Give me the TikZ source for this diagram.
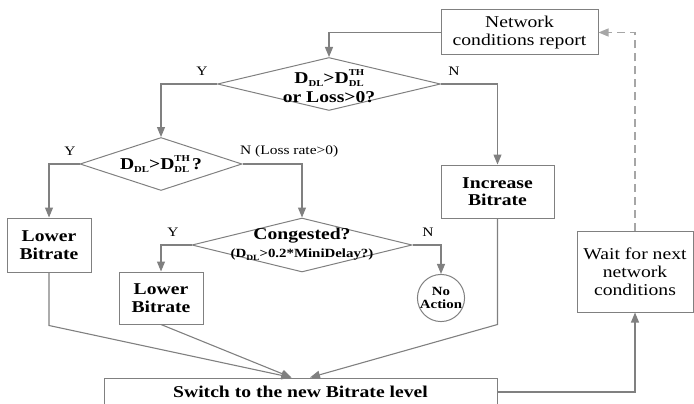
\documentclass[tikz,border=0pt]{standalone}
\usepackage{fontspec}
\setmainfont{Liberation Serif}[FakeStretch=1.19]
\usetikzlibrary{shapes.geometric,arrows.meta}

% delay subscripts: D_DL and D_DL^TH
\newcommand{\dsub}[1][9]{\raisebox{-3pt}{\fontsize{#1}{#1}\selectfont DL}}
\newcommand{\dsubsup}{\rlap{\raisebox{8.5pt}{\fontsize{9}{9}\selectfont TH}}\raisebox{-3pt}{\fontsize{9}{9}\selectfont DL}}

\begin{document}
\begin{tikzpicture}[
        x=1pt, y=-1pt,
        every node/.style={font=\fontsize{16.5}{18}\selectfont, align=center},
        box/.style={draw=gray, line width=1pt, inner sep=0pt},
        boldbox/.style={box, font=\fontsize{16.5}{17.5}\selectfont\bfseries},
        decision/.style={diamond, draw=gray, line width=1pt, inner sep=0pt},
        dtext/.style={font=\fontsize{16.5}{19}\selectfont\bfseries, align=center},
        lbl/.style={font=\fontsize{13}{13}\selectfont, inner sep=0pt},
        arrow/.style={draw=gray, line width=1.1pt, -{Triangle[length=10pt,width=8pt]}}
    ]
        \useasboundingbox (0,0) rectangle (694,404);

        % boxes
        \node[box, minimum width=157pt, minimum height=45pt] (report) at (519.5,32.5) {Network\\conditions report};
        \node[boldbox, minimum width=84pt, minimum height=54pt] (low1) at (49,245) {Lower\\Bitrate};
        \node[boldbox, minimum width=84pt, minimum height=52pt] (low2) at (161,298) {Lower\\Bitrate};
        \node[boldbox, minimum width=113pt, minimum height=53pt] (inc) at (497.5,191.5) {Increase\\Bitrate};
        \node[box, minimum width=116pt, minimum height=81pt] (wait) at (635,271.5) {Wait for next\\network\\conditions};
        \node[boldbox, minimum width=393pt, minimum height=28pt] (switch) at (300.5,392) {Switch to the new Bitrate level};
        \node[circle, draw=gray, line width=1pt, minimum size=46pt, inner sep=0pt,
              font=\fontsize{12.5}{13}\selectfont\bfseries] (noact) at (441,298) {No\\Action};

        % decisions
        \node[decision, minimum width=223pt, minimum height=53pt,
              label={[dtext, yshift=-2pt]center:D\dsub>D\dsubsup\\or Loss>0?}] (d1) at (329,84) {};
        \node[decision, minimum width=162pt, minimum height=53pt,
              label={[dtext]center:D\dsub>D\dsubsup\,?}] (d2) at (161,164) {};
        \node[decision, minimum width=220pt, minimum height=54pt,
              label={[align=center, yshift=1pt]center:{\fontsize{16.5}{18}\selectfont\bfseries Congested?}\\
              {\fontsize{12.5}{13}\selectfont\bfseries (D\dsub[8]>0.2*MiniDelay?)}}] (d3) at (302,245) {};

        % branch labels
        \node[lbl] (y1) at (202,71) {Y};
        \node[lbl] (n1) at (454,71) {N};
        \node[lbl] (y2) at (70,151) {Y};
        \node[lbl, anchor=west] (n2) at (240,151) {N (Loss rate>0)};
        \node[lbl] (y3) at (173,232) {Y};
        \node[lbl] (n3) at (428,232) {N};

        % merge points on the switch box
        \coordinate (mergeL) at ([xshift=-9pt]switch.north);
        \coordinate (mergeR) at ([xshift=9.5pt]switch.north);

        % flow
        \draw[arrow] (report.west) -| (d1.north);
        \draw[arrow] (d1.west) -| (d2.north);
        \draw[arrow] (d1.east) -| (inc.north);
        \draw[arrow] (d2.west) -| (low1.north);
        \draw[arrow] (d2.east) -| (d3.north);
        \draw[arrow] (d3.west) -| (low2.north);
        \draw[arrow] (d3.east) -| (noact.north);
        \draw[arrow] (low1.south) -- ++(0,53) -- (mergeL);
        \draw[arrow] (low2.south) -- (mergeL);
        \draw[arrow] (inc.south) -- ++(0,106) -- (mergeR);
        \draw[arrow] (switch.east) -| (wait.south);
        \draw[arrow, draw=gray!70, dash pattern=on 8pt off 5pt] (wait.north) |- (report.east);
    \end{tikzpicture}
\end{document}
